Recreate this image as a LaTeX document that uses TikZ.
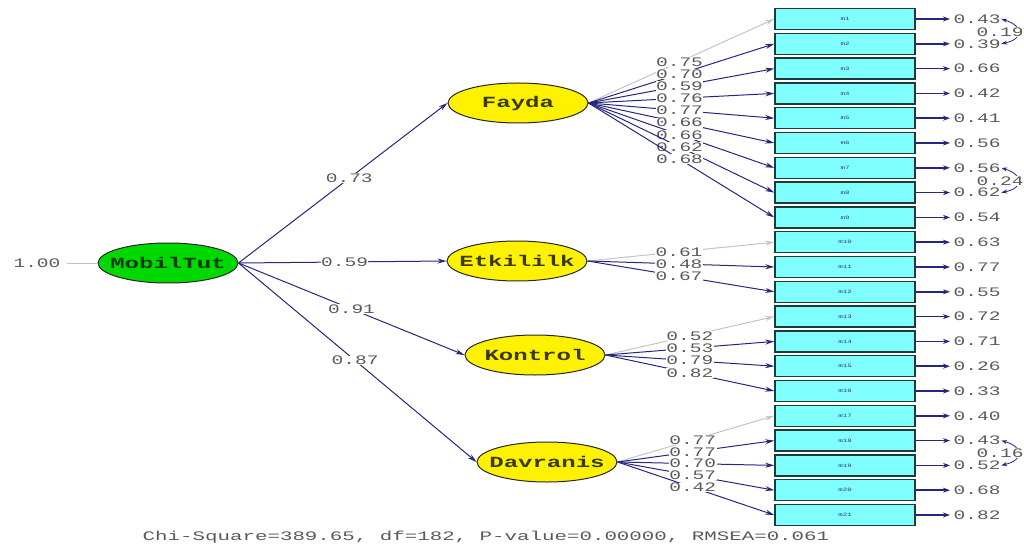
\documentclass[tikz,border=0pt]{standalone}
\usepackage{fontspec}
\newfontfamily\numfont[FakeStretch=1.5]{Liberation Mono}
\newfontfamily\botfont[FakeStretch=1.6]{Liberation Mono}
\newfontfamily\facfont[FakeStretch=1.55]{Liberation Mono}
\usetikzlibrary{shapes.geometric,arrows.meta}
\definecolor{lnavy}{HTML}{26267F}
\definecolor{numgray}{HTML}{5A5A5A}
\definecolor{boxfill}{HTML}{80FFFF}
\definecolor{boxdraw}{HTML}{1E3A3A}
\definecolor{boxtext}{HTML}{2A3A8A}
\definecolor{olivetext}{HTML}{3A3A00}
\definecolor{greentext}{HTML}{003A00}
\definecolor{fixgray}{HTML}{C4C4C4}
\tikzset{
  fac/.style={ellipse, draw=black!85, line width=1pt, fill=yellow, minimum width=140, minimum height=40, inner sep=0pt, font=\facfont\bfseries\fontsize{15.5}{16}\selectfont, text=olivetext},
  root/.style={fac, fill=green!85!black, text=greentext},
  ind/.style={rectangle, draw=boxdraw, line width=1.5pt, fill=boxfill, minimum width=140, minimum height=21, inner sep=0pt, font=\numfont\fontsize{5}{6}\selectfont, text=boxtext},
  num/.style={font=\numfont\fontsize{13}{14}\selectfont, text=numgray, fill=white, inner sep=0.5pt},
  bottom/.style={font=\botfont\fontsize{13}{14}\selectfont, text=numgray, inner sep=0pt},
  pth/.style={draw=lnavy, line width=1pt, -{Stealth[length=9pt,width=5pt]}},
  fixed/.style={draw=fixgray, line width=1pt, -{Stealth[length=9pt,width=5pt]}},
  err/.style={draw=lnavy, line width=1.6pt, -{Stealth[length=7pt,width=5pt]}, shorten >=3pt},
  cov/.style={draw=lnavy, line width=0.8pt, {Stealth[length=6pt,width=4pt]}-{Stealth[length=6pt,width=4pt]}}
}
\begin{document}
\begin{tikzpicture}[x=1pt,y=-1pt]
\useasboundingbox (0,0) rectangle (1024,545);
% latent variables
\node[root] (M) at (168,263) {\makebox[0pt]{MobilTut}};
\node[fac] (F) at (518,103) {\makebox[0pt]{Fayda}};
\node[fac] (E) at (517,261) {\makebox[0pt]{Etkililk}};
\node[fac] (K) at (535,355) {\makebox[0pt]{Kontrol}};
\node[fac] (D) at (547,462) {\makebox[0pt]{Davranis}};
% indicators
\foreach \i in {1,...,21} {
  \node[ind] (m\i) at (845,{19+(\i-1)*24.8}) {m\i};
}
% error terms
\foreach \i/\v in {1/0.43,2/0.39,3/0.66,4/0.42,5/0.41,6/0.56,7/0.56,8/0.62,9/0.54,10/0.63,11/0.77,12/0.55,13/0.72,14/0.71,15/0.26,16/0.33,17/0.40,18/0.43,19/0.52,20/0.68,21/0.82} {
  \node[num, fill=none, anchor=west] (e\i) at (953,{19+(\i-1)*24.8}) {\v};
  \draw[err] (m\i.east) -- (e\i.west);
}
% error covariances
\draw[cov] (e1.east) .. controls (1024,26) and (1024,39) .. (e2.east);
\node[num, anchor=west] (c12) at (976,32) {0.19};
\draw[cov] (e7.east) .. controls (1024,175) and (1024,188) .. (e8.east);
\node[num, anchor=west] (c78) at (976,181) {0.24};
\draw[cov] (e18.east) .. controls (1024,447) and (1024,460) .. (e19.east);
\node[num, anchor=west] (c1819) at (976,453) {0.16};
% variance of MobilTut
\node[num, fill=none] (v) at (37,263) {1.00};
\draw[draw=fixgray, line width=1pt] (v.east) ++(6,0) -- (M.west);
% structural paths
\draw[pth] (M.east) -- node[num, pos=.53] (s1) {0.73} (F.west);
\draw[pth] (M.east) -- node[num, pos=.51] (s2) {0.59} (E.west);
\draw[pth] (M.east) -- node[num, pos=.50] (s3) {0.91} (K.west);
\draw[pth] (M.east) -- node[num, pos=.49] (s4) {0.87} (D.west);
% Fayda loadings
\draw[fixed] (F.east) -- node[num, pos=.49] (l1) {0.75} (m1.west);
\foreach \i/\v in {2/0.70,3/0.59,4/0.76,5/0.77,6/0.66,7/0.66,8/0.62,9/0.68} {
  \draw[pth] (F.east) -- node[num, pos=.49] (l\i) {\v} (m\i.west);
}
% Etkililk loadings
\draw[fixed] (E.east) -- node[num, pos=.49] (l10) {0.61} (m10.west);
\foreach \i/\v in {11/0.48,12/0.67} {
  \draw[pth] (E.east) -- node[num, pos=.49] (l\i) {\v} (m\i.west);
}
% Kontrol loadings
\draw[fixed] (K.east) -- node[num, pos=.50] (l13) {0.52} (m13.west);
\foreach \i/\v in {14/0.53,15/0.79,16/0.82} {
  \draw[pth] (K.east) -- node[num, pos=.50] (l\i) {\v} (m\i.west);
}
% Davranis loadings
\draw[fixed] (D.east) -- node[num, pos=.48] (l17) {0.77} (m17.west);
\foreach \i/\v in {18/0.77,19/0.70,20/0.57,21/0.42} {
  \draw[pth] (D.east) -- node[num, pos=.48] (l\i) {\v} (m\i.west);
}
% fit statistics
\node[bottom] (fit) at (486,537) {Chi-Square=389.65, df=182, P-value=0.00000, RMSEA=0.061};
\end{tikzpicture}
\end{document}
